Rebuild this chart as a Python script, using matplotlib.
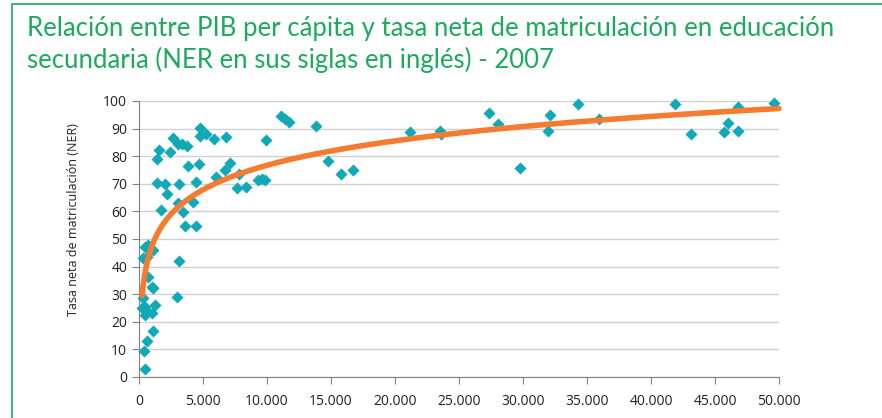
import numpy as np
import matplotlib
matplotlib.use("Agg")
import matplotlib.pyplot as plt
from matplotlib.ticker import FuncFormatter
from matplotlib.patches import Rectangle

# PIB per cápita (x) y tasa neta de matriculación secundaria (y)
pib = [
    1380, 1590, 2420, 2680, 3070, 3330, 3720, 4770, 4770, 5230, 5860, 6800,
    3850, 4710, 7110, 6720, 6020, 1430, 2030, 3150, 4450, 2210, 7680, 8360,
    7830, 9300, 9590, 9840, 9920, 11100, 11400, 11700, 13830, 14790, 15750, 16680,
    21170, 23520, 23600, 27340, 28070, 29790, 32090, 31930, 34300, 35960,
    41880, 43160, 45730, 46050, 46770, 46770, 49610,
    1690, 3070, 3410, 4240, 3590, 4420, 470, 730, 340, 600, 1120, 3150,
    730, 990, 1120, 2950, 340, 470, 210, 600, 1250, 990, 470,
    1070, 600, 410, 470,
]
ner = [
    79.0, 82.2, 81.4, 86.5, 84.6, 84.3, 83.7, 90.3, 87.4, 88.0, 86.1, 86.8,
    76.6, 77.2, 77.5, 75.0, 72.6, 70.4, 70.1, 69.9, 70.8, 66.2, 68.4, 69.0,
    73.5, 71.4, 71.6, 71.2, 85.9, 94.6, 93.6, 92.5, 90.9, 78.4, 73.6, 75.0,
    88.6, 89.1, 88.2, 95.6, 91.7, 75.9, 94.9, 89.1, 98.8, 93.3,
    98.8, 88.0, 88.8, 91.9, 89.1, 97.7, 99.3,
    60.5, 62.9, 59.7, 63.5, 54.8, 54.8, 47.2, 47.8, 43.0, 43.6, 46.0, 42.0,
    36.3, 32.7, 32.1, 28.9, 28.5, 25.5, 24.9, 23.7, 26.1, 23.1, 22.5,
    16.7, 13.0, 9.4, 2.9,
]

# línea de tendencia logarítmica y = a*ln(x) + b, coeficientes
trend_a = 12.78
trend_b = -41.0
trend_start = 250

x_ticks = list(range(0, 50001, 5000))
y_ticks = list(range(0, 101, 10))

title_lines = ["Relación entre PIB per cápita y tasa neta de matriculación en educación",
               "secundaria (NER en sus siglas en inglés) - 2007"]
ylabel = "Tasa neta de matriculación (NER)"

green = "#1CAA5E"
teal = "#11A9B8"
orange = "#F47B30"

plt.rcParams['font.family'] = ['Open Sans', 'DejaVu Sans']

fig = plt.figure(figsize=(8.82, 4.18), dpi=100)
fig.patches.append(Rectangle((12 / 882, -0.05), 1.0, 1.05 - 4 / 418, transform=fig.transFigure,
                             fill=False, edgecolor=green, linewidth=1.2))
for i, line in enumerate(title_lines):
    fig.text(27 / 882, 1 - (36 + 32 * i) / 418, line, color=green, fontsize=18.5,
             va="baseline", ha="left", family=["Lato", "DejaVu Sans"])

ax = fig.add_axes([139 / 882, 1 - 377 / 418, 640 / 882, 276 / 418])

ax.scatter(pib, ner, marker="D", s=38, color=teal, linewidths=0, zorder=3, clip_on=False)

xs = np.linspace(trend_start, 50000, 600)
ax.plot(xs, trend_a * np.log(xs) + trend_b, color=orange, linewidth=4,
        solid_capstyle="round", zorder=4, clip_on=False)

ax.set_xlim(0, 50000)
ax.set_ylim(0, 100)
ax.set_xticks(x_ticks)
ax.set_yticks(y_ticks)
ax.xaxis.set_major_formatter(FuncFormatter(lambda v, p: f"{int(v):,}".replace(",", ".")))
ax.grid(axis="y", color="#D0D0D0", linewidth=1)
ax.set_axisbelow(True)
for s in ["top", "right"]:
    ax.spines[s].set_visible(False)
for s in ["left", "bottom"]:
    ax.spines[s].set_color("#808080")
ax.tick_params(axis="both", colors="#808080", labelcolor="#222222", labelsize=10, length=5)
ax.tick_params(axis="x", pad=7)
ax.set_ylabel(ylabel, fontsize=9, color="#222222")
ax.yaxis.set_label_coords(-0.092, 0.569)

fig.savefig("out.png", dpi=100)
